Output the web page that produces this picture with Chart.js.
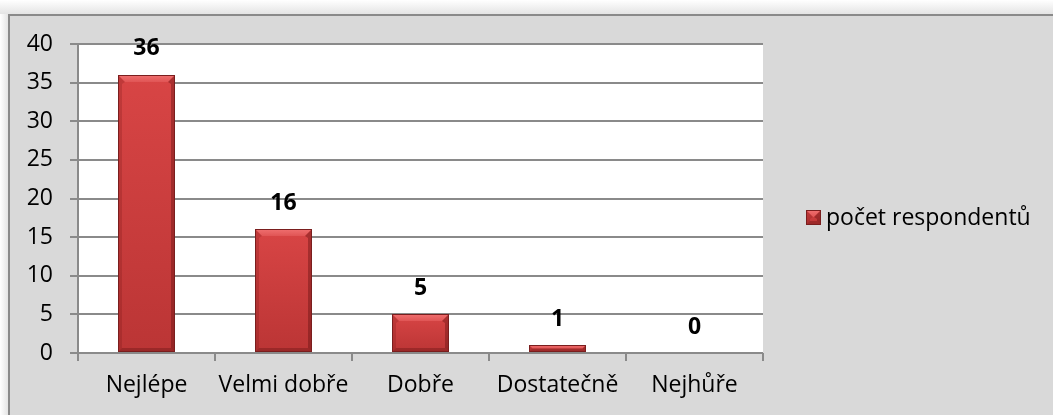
<!DOCTYPE html>
<html><head><meta charset="utf-8">
<script src="https://cdn.jsdelivr.net/npm/chart.js@4"></script>
<style>html,body{margin:0;padding:0;background:#fff;}#wrap{width:1053px;height:415px;position:relative;}</style>
</head><body><div id="wrap"><canvas id="c" width="1053" height="415"></canvas></div>
<script>
const categories = ["Nejlépe", "Velmi dobře", "Dobře", "Dostatečně", "Nejhůře"];
const values = [36, 16, 5, 1, 0];
const seriesName = "počet respondentů";
const yTicks = [0, 5, 10, 15, 20, 25, 30, 35, 40];

const FONT = "'Open Sans', Lato, sans-serif";

const bgPlugin = {
  id: 'bg',
  beforeDraw(chart) {
    const ctx = chart.ctx, W = chart.width, H = chart.height;
    ctx.save();
    let g = ctx.createLinearGradient(0, 0, 0, 14);
    g.addColorStop(0, '#ffffff'); g.addColorStop(1, '#e4e4e4');
    ctx.fillStyle = g; ctx.fillRect(0, 0, W, 14);
    g = ctx.createLinearGradient(0, 0, 8, 0);
    g.addColorStop(0, '#ffffff'); g.addColorStop(1, '#e4e4e4');
    ctx.fillStyle = g; ctx.fillRect(0, 14, 8, H);
    ctx.fillStyle = '#d9d9d9'; ctx.fillRect(8, 14, W, H);
    ctx.strokeStyle = '#8a8a8a'; ctx.lineWidth = 2;
    ctx.beginPath(); ctx.moveTo(9, H); ctx.lineTo(9, 15); ctx.lineTo(W, 15); ctx.stroke();
    const a = chart.chartArea;
    ctx.fillStyle = '#ffffff'; ctx.fillRect(a.left, a.top, a.right - a.left, a.bottom - a.top);
    ctx.restore();
  }
};

function drawBevelBox(ctx, x0, x1, top, bottom) {
  const w = x1 - x0, h = bottom - top;
  if (h <= 0) return;
  const b = Math.min(7, h / 2, w / 2);
  const s = Math.min(4, h / 2, w / 2);
  let g = ctx.createLinearGradient(0, top, 0, bottom);
  g.addColorStop(0, '#d84545');
  g.addColorStop(1, '#bb3535');
  ctx.fillStyle = g; ctx.fillRect(x0, top, w, h);
  // top bevel
  g = ctx.createLinearGradient(0, top, 0, top + b);
  g.addColorStop(0, '#f07070'); g.addColorStop(1, '#e05555');
  ctx.fillStyle = g;
  ctx.beginPath(); ctx.moveTo(x0, top); ctx.lineTo(x1, top); ctx.lineTo(x1 - b, top + b); ctx.lineTo(x0 + b, top + b); ctx.closePath(); ctx.fill();
  // left bevel
  ctx.fillStyle = 'rgba(110,20,20,0.22)';
  ctx.beginPath(); ctx.moveTo(x0, top); ctx.lineTo(x0 + b, top + b); ctx.lineTo(x0 + s, top + b + 2); ctx.lineTo(x0 + s, bottom - s); ctx.lineTo(x0, bottom); ctx.closePath(); ctx.fill();
  // right bevel
  ctx.fillStyle = 'rgba(80,10,10,0.35)';
  ctx.beginPath(); ctx.moveTo(x1, top); ctx.lineTo(x1 - b, top + b); ctx.lineTo(x1 - s, top + b + 2); ctx.lineTo(x1 - s, bottom - s); ctx.lineTo(x1, bottom); ctx.closePath(); ctx.fill();
  // bottom bevel
  ctx.fillStyle = 'rgba(80,10,10,0.3)';
  ctx.beginPath(); ctx.moveTo(x0, bottom); ctx.lineTo(x0 + s, bottom - s); ctx.lineTo(x1 - s, bottom - s); ctx.lineTo(x1, bottom); ctx.closePath(); ctx.fill();
  ctx.strokeStyle = '#7a1e1e'; ctx.lineWidth = 1;
  ctx.strokeRect(x0 + 0.5, top + 0.5, w - 1, h - 1);
}

const barPlugin = {
  id: 'bevel',
  afterDatasetsDraw(chart) {
    const ctx = chart.ctx;
    const meta = chart.getDatasetMeta(0);
    ctx.save();
    meta.data.forEach((bar, i) => {
      const p = bar.getProps(['x', 'y', 'base', 'width'], true);
      const x0 = Math.round(p.x - p.width / 2), x1 = Math.round(p.x + p.width / 2);
      drawBevelBox(ctx, x0, x1, Math.round(p.y), Math.round(p.base));
    });
    ctx.font = "bold 23px " + FONT;
    ctx.fillStyle = '#000';
    ctx.textAlign = 'center'; ctx.textBaseline = 'middle';
    meta.data.forEach((bar, i) => {
      ctx.fillText(String(values[i]), bar.x, bar.y - 26);
    });
    ctx.restore();
  }
};

const legendPlugin = {
  id: 'leg',
  afterDraw(chart) {
    const ctx = chart.ctx;
    ctx.save();
    drawBevelBox(ctx, 806, 821, 210, 225);
    ctx.font = "23px " + FONT; ctx.fillStyle = '#000';
    ctx.textBaseline = 'middle'; ctx.textAlign = 'left';
    ctx.fillText(seriesName, 826, 218);
    ctx.restore();
  }
};

new Chart(document.getElementById('c'), {
  type: 'bar',
  data: {
    labels: categories,
    datasets: [{ label: seriesName, data: values, backgroundColor: 'rgba(0,0,0,0)', borderWidth: 0, categoryPercentage: 1, barPercentage: 0.41 }]
  },
  options: {
    responsive: false, animation: false,
    layout: { padding: { left: 0, top: 44, right: 290, bottom: 0 } },
    plugins: { legend: { display: false }, tooltip: { enabled: false } },
    scales: {
      x: {
        grid: { offset: true, drawOnChartArea: false, color: '#8a8a8a', lineWidth: 2, tickLength: 8 },
        border: { display: false },
        ticks: { font: { family: FONT, size: 23 }, color: '#000', padding: 11 },
        afterFit(s) { s.height = 62; }
      },
      y: {
        min: 0, max: 40,
        afterBuildTicks(s) { s.ticks = yTicks.map(v => ({ value: v })); },
        grid: { color: '#8a8a8a', lineWidth: 2, tickLength: 8 },
        border: { display: true, color: '#8a8a8a', width: 2 },
        ticks: { font: { family: FONT, size: 23 }, color: '#000', padding: 17 },
        afterFit(s) { s.width = 78; }
      }
    }
  },
  plugins: [bgPlugin, barPlugin, legendPlugin]
});
</script></body></html>
